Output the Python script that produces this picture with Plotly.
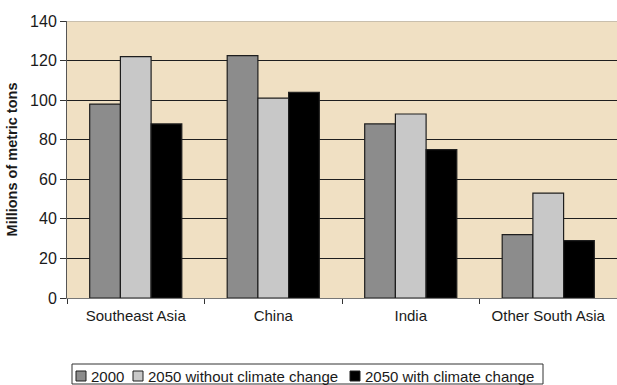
import plotly.graph_objects as go

regions = ["Southeast Asia", "China", "India", "Other South Asia"]
series_names = ["2000", "2050 without climate change", "2050 with climate change"]
values_2000 = [98, 122.5, 88, 32]
values_2050_no_cc = [122, 101, 93, 53]
values_2050_cc = [88, 104, 75, 29]
y_ticks = [0, 20, 40, 60, 80, 100, 120, 140]

series_values = [values_2000, values_2050_no_cc, values_2050_cc]
colors = ["#8c8c8c", "#c8c8c8", "#000000"]

FONT = "Arial, 'Liberation Sans', sans-serif"
TEXT = "#1a1a1a"

W, H = 617, 385
ML, MR, MT, MB = 67, 0, 21, 87
PW, PH = W - ML - MR, H - MT - MB


def px_x(x):
    """pixel column -> paper x"""
    return (x - ML) / PW


def px_y(y):
    """pixel row -> paper y"""
    return (H - MB - y) / PH


fig = go.Figure()
for name, vals, col in zip(series_names, series_values, colors):
    fig.add_trace(go.Bar(
        x=regions, y=vals, name=name,
        marker=dict(color=col, line=dict(color="#1e1e1e", width=1.2)),
        showlegend=False,
    ))

fig.update_layout(
    width=W, height=H,
    margin=dict(l=ML, r=MR, t=MT, b=MB),
    paper_bgcolor="white",
    plot_bgcolor="#f0e0c3",
    barmode="group",
    bargap=0.33,
    bargroupgap=0,
    font=dict(family=FONT, size=15, color=TEXT),
    xaxis=dict(
        type="category",
        tickson="boundaries",
        ticks="outside", ticklen=5, tickcolor="#333333",
        ticklabelstandoff=4,
        showline=True, linecolor="#777777", linewidth=1,
        showgrid=False,
        tickfont=dict(family=FONT, size=15, color=TEXT),
    ),
    yaxis=dict(
        range=[0, 140],
        tickvals=y_ticks,
        ticks="outside", ticklen=6, tickcolor="#333333",
        showline=True, linecolor="#555555", linewidth=1,
        showgrid=True, gridcolor="#1e1e1e", gridwidth=1,
        zeroline=False,
        tickfont=dict(family=FONT, size=16, color=TEXT),
        title=dict(text="<b>Millions of metric tons</b>",
                   font=dict(family=FONT, size=14.5, color=TEXT),
                   standoff=9),
    ),
)

# light border along the top of the plotting area
fig.add_shape(type="line", xref="paper", yref="y", x0=0, x1=1, y0=140, y1=140,
              line=dict(color="#bdb4a6", width=1.5))

# legend box with compact square swatches
box_left, box_right, box_top, box_bottom = 72, 543, 364, 384
fig.add_shape(type="rect", xref="paper", yref="paper",
              x0=px_x(box_left), x1=px_x(box_right),
              y0=px_y(box_bottom), y1=px_y(box_top),
              line=dict(color="#333333", width=1), fillcolor="white", layer="above")

swatch_left = [76, 133, 350]
label_left = [89, 146, 363]
sw_top, sw_bottom = 371, 381
for name, col, sx, lx in zip(series_names, colors, swatch_left, label_left):
    fig.add_shape(type="rect", xref="paper", yref="paper",
                  x0=px_x(sx), x1=px_x(sx + 10),
                  y0=px_y(sw_bottom), y1=px_y(sw_top),
                  line=dict(color="#1e1e1e", width=1), fillcolor=col, layer="above")
    fig.add_annotation(text=name, xref="paper", yref="paper",
                       x=px_x(lx), y=px_y((sw_top + sw_bottom) / 2),
                       xanchor="left", yanchor="middle", showarrow=False,
                       font=dict(family=FONT, size=15, color=TEXT))

fig.write_html("out.html")
